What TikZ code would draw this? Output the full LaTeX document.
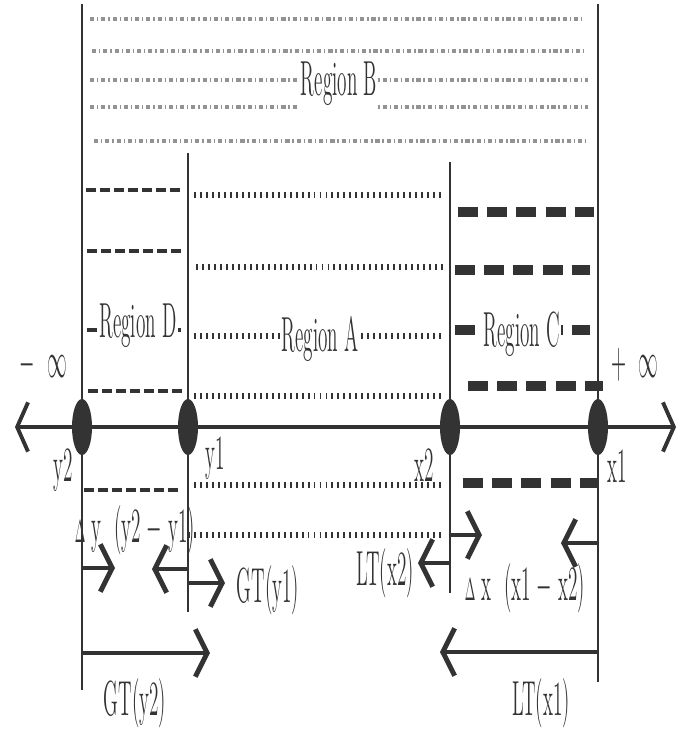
\documentclass[tikz,border=0pt]{standalone}
\usepackage{graphicx}
\usetikzlibrary{arrows.meta,shapes.geometric}
\definecolor{ink}{HTML}{333333}
\definecolor{haze}{HTML}{939393}
\newcommand{\cond}[1]{\scalebox{.39}[1]{#1}}
\begin{document}
\begin{tikzpicture}[x=.01cm, y=-.01cm,
		bound/.style = {ink, line width=.6pt},
		axis/.style = {ink, line width=1.1pt, {Straight Barb[length=3.1pt, width=14pt]}-{Straight Barb[length=3.1pt, width=14pt]}},
		regB/.style = {haze, line width=1.4pt, dash pattern=on 1.2pt off .8pt on .4pt off .8pt},
		regD/.style = {ink, line width=1.4pt, dash pattern=on 2.8pt off 1.2pt},
		regA/.style = {ink, line width=1.7pt, dash pattern=on .55pt off 1.15pt},
		regC/.style = {ink, line width=2.8pt, dash pattern=on 5.7pt off 2.6pt},
		barb/.style = {ink, line width=1.4pt, -{Straight Barb[length=3.4pt, width=13.5pt]}},
		dot/.style = {ellipse, fill=ink, minimum width=2mm, minimum height=5.6mm, inner sep=0pt},
		lbl/.style = {ink, font=\fontsize{14}{16}\selectfont, inner sep=1pt},
		tag/.style = {lbl, fill=white, inner xsep=.3pt}]
		\useasboundingbox (0,0) rectangle (686,729);
		
		\foreach \y/\a/\b in {19/90/584, 51/92/587, 80/90/588, 107/90/588, 141/94/588}
			\draw[regB] (\a,\y) -- (\b,\y);
		\foreach \y/\a/\b in {190/86/184, 251/87/184, 330/87/184, 391/88/182, 490/84/182}
			\draw[regD] (\a,\y) -- (\b,\y);
		\foreach \y/\a/\b in {195/194/445, 267/196/445, 336/194/445, 396/194/445, 485/194/445, 535/188/442}
			\draw[regA] (\a,\y) -- (\b,\y);
		\foreach \y/\a/\b in {212/458/594, 270/455/590, 330/455/590, 386/468/603, 483/463/598}
			\draw[regC] (\a,\y) -- (\b,\y);
		
		\node[tag] (regionB) at (339,84) {\cond{Region B}};
		\node[tag] (regionD) at (138,326) {\cond{Region D}};
		\node[tag] (regionA) at (320,339) {\cond{Region A}};
		\node[tag] (regionC) at (522,334) {\cond{Region C}};
		
		\draw[bound] (82,4) -- (82,690);
		\draw[bound] (188,153) -- (188,612);
		\draw[bound] (450,162) -- (450,593);
		\draw[bound] (598,4) -- (598,682);
		
		\draw[axis] (15,427) -- (676,427);
		\node[dot] (y2) at (82,427) {};
		\node[dot] (y1) at (188,427) {};
		\node[dot] (x2) at (450,427) {};
		\node[dot] (x1) at (598,427) {};
		
		\node[lbl] (minf) at (43,365) {\cond{$-\ \ \infty$}};
		\node[lbl] (pinf) at (635,365) {\cond{$+\ \ \infty$}};
		\node[lbl] (ly2) at (63,470) {\cond{y2}};
		\node[lbl] (ly1) at (215,458) {\cond{y1}};
		\node[lbl] (lx2) at (424,465) {\cond{x2}};
		\node[lbl] (lx1) at (617,466) {\cond{x1}};
		
		\node[lbl] (dy) at (135,530) {\cond{{\small$\Delta$}\ y\ \ (y2 $-$ y1)}};
		\draw[barb] (y2 |- 0,568) -- (115,568);
		\draw[barb] (y1 |- 0,569) -- (152,569);
		\draw[barb] (y1 |- 0,583) -- (225,583);
		\node[lbl] (gty1) at (268,590) {\cond{GT(y1)}};
		\draw[barb] (y2 |- 0,653) -- (210,653);
		\node[lbl] (gty2) at (135,703) {\cond{GT(y2)}};
		
		\draw[barb] (x2 |- 0,563) -- (418,563);
		\node[lbl] (ltx2) at (385,573) {\cond{LT(x2)}};
		\draw[barb] (x2 |- 0,535) -- (482,535);
		\draw[barb] (x1 |- 0,543) -- (561,543);
		\node[lbl] (dx) at (525,588) {\cond{{\small$\Delta$}\ x\ \ (x1 $-$ x2)}};
		\draw[barb] (x1 |- 0,652) -- (440,652);
		\node[lbl] (ltx1) at (541,703) {\cond{LT(x1)}};
		\end{tikzpicture}
\end{document}
